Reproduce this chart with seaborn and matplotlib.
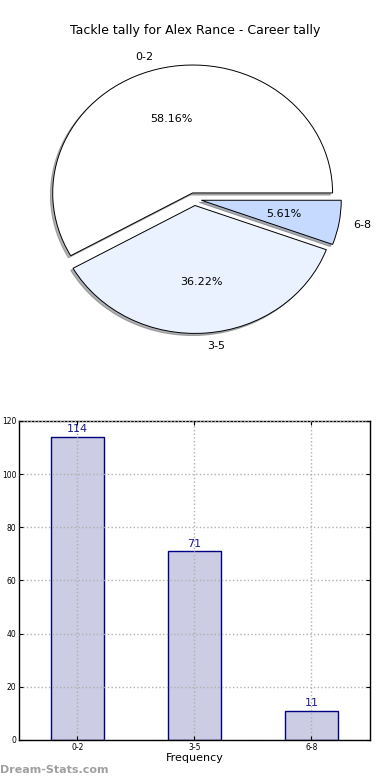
import numpy as np
import matplotlib
matplotlib.use("Agg")
import matplotlib.pyplot as plt
import seaborn as sns

# data
bins = ["0-2", "3-5", "6-8"]
counts = [114, 71, 11]
pie_colors = ["#ffffff", "#eaf2ff", "#c6d9ff"]
yticks = [0, 20, 40, 60, 80, 100, 120]

sns.set_style("white")
plt.rcParams["font.family"] = ["DejaVu Sans"]
plt.rcParams["text.color"] = "black"
plt.rcParams["axes.labelcolor"] = "black"
plt.rcParams["xtick.color"] = "black"
plt.rcParams["ytick.color"] = "black"

fig = plt.figure(figsize=(3.9, 7.8), dpi=100)

# pie (stretched a little, not equal aspect)
ax1 = fig.add_axes([0.05, 0.5397, 0.897, 0.41])
ax1.pie(counts, labels=bins, colors=pie_colors, autopct="%.2f%%",
        explode=[0.05, 0.05, 0.05],
        shadow=dict(ox=-0.012, oy=-0.012, shade=0.6), startangle=0,
        wedgeprops=dict(edgecolor="black", linewidth=0.7),
        textprops=dict(fontsize=8, color="black"))
ax1.set_aspect("auto")
ax1.set_xlim(-1.25, 1.25)
ax1.set_ylim(-1.25, 1.25)
fig.text(0.5, 0.961, "Tackle tally for Alex Rance - Career tally",
         ha="center", va="center", fontsize=9, color="black")

# bars
ax2 = fig.add_axes([0.0487, 0.0513, 0.9, 0.409])
sns.barplot(x=bins, y=counts, ax=ax2, width=0.45, color="#ccccE4",
            saturation=1, edgecolor="#000080", linewidth=1)
ax2.set_xlim(-0.5, 2.5)
ax2.set_ylim(0, 120)
ax2.set_yticks(yticks)
ax2.grid(True, linestyle=":", color="#b0b0b0", linewidth=1)
ax2.set_axisbelow(False)
ax2.tick_params(labelsize=5.5, direction="in", length=3, pad=2,
                top=True, right=True, left=True, bottom=True)
for s in ax2.spines.values():
    s.set_color("black")
    s.set_linewidth(1)
ax2.set_xlabel("Frequency", fontsize=8, labelpad=1)
for i, c in enumerate(counts):
    ax2.text(i, c + 1, str(c), ha="center", va="bottom", fontsize=8,
             color="#1a1a99")

fig.text(0.0, 0.013, "Dream-Stats.com", fontsize=8, color="#a0a0a0",
         fontweight="bold", ha="left", va="center")

fig.savefig("out.png", dpi=100)
